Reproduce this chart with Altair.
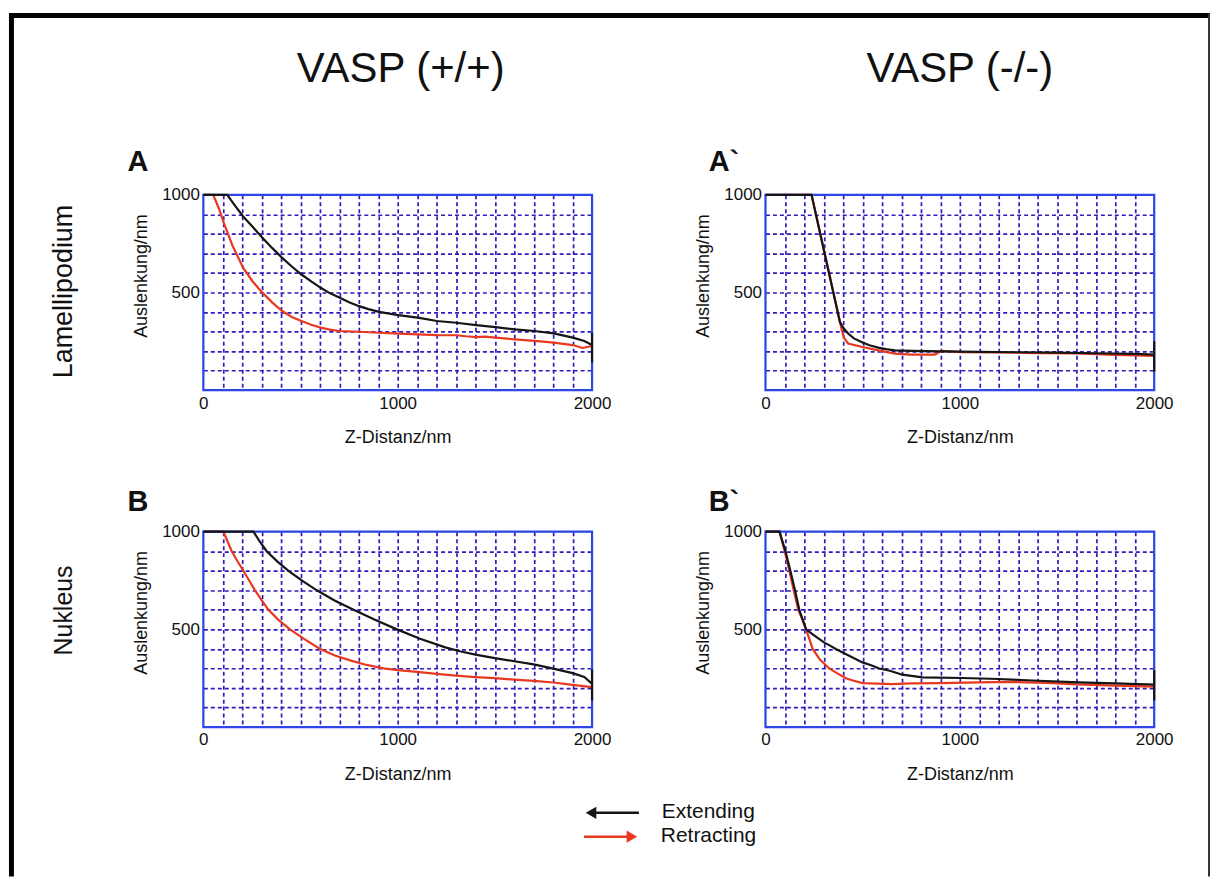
import altair as alt
import pandas as pd

# ---------------- data ----------------
# Panel A: VASP (+/+), Lamellipodium
A_ext_x = [0, 123, 160, 205, 250, 305, 355, 406, 455, 505, 555, 604, 650, 702, 750, 801, 850, 904, 1003, 1103, 1202, 1301, 1404, 1503, 1603, 1704, 1803, 1901, 1960, 2000, 2000, 2000]
A_ext_y = [1000, 1000, 948, 889, 840, 779, 727, 677, 633, 592, 557, 524, 497, 473, 450, 430, 415, 401, 384, 371, 354, 345, 333, 323, 311, 303, 291, 269, 252, 231, 294, 141]
A_ret_x = [0, 51, 80, 106, 150, 205, 255, 305, 355, 406, 455, 505, 555, 604, 650, 702, 801, 904, 1003, 1103, 1202, 1301, 1350, 1404, 1450, 1503, 1603, 1704, 1803, 1901, 1950, 2000]
A_ret_y = [1000, 1000, 930, 855, 740, 626, 555, 498, 448, 405, 375, 354, 335, 320, 310, 303, 299, 294, 289, 286, 282, 281, 276, 272, 274, 269, 260, 252, 243, 231, 216, 226]

# Panel A`: VASP (-/-), Lamellipodium
A2_ext_x = [0, 237, 383, 400, 425, 455, 494, 535, 580, 620, 665, 751, 906, 1100, 1300, 1500, 1700, 1900, 2000, 2000, 2000]
A2_ext_y = [1000, 1000, 349, 320, 290, 265, 247, 230, 218, 210, 204, 201, 199, 196, 194, 192, 189, 186, 182, 250, 94]
A2_ret_x = [0, 237, 391, 403, 425, 494, 580, 665, 751, 871, 906, 1000, 1200, 1400, 1600, 1800, 2000]
A2_ret_y = [1000, 1000, 315, 269, 239, 222, 204, 187, 182, 182, 201, 195, 193, 190, 188, 181, 176]

# Panel B: VASP (+/+), Nukleus
B_ext_x = [0, 258, 290, 326, 380, 438, 510, 584, 675, 773, 880, 996, 1115, 1245, 1320, 1400, 1500, 1600, 1700, 1800, 1900, 1960, 2000, 2000, 2000]
B_ext_y = [1000, 1000, 950, 900, 848, 800, 748, 700, 648, 600, 550, 500, 452, 408, 388, 371, 353, 337, 321, 299, 276, 256, 221, 294, 136]
B_ret_x = [0, 103, 125, 146, 175, 206, 236, 266, 300, 335, 385, 446, 520, 601, 680, 760, 840, 927, 1000, 1100, 1200, 1300, 1400, 1500, 1600, 1700, 1800, 1900, 2000]
B_ret_y = [1000, 1000, 950, 900, 850, 800, 750, 700, 650, 600, 550, 500, 450, 400, 365, 340, 318, 300, 291, 282, 272, 263, 256, 250, 243, 236, 228, 216, 204]

# Panel B`: VASP (-/-), Nukleus
B2_ext_x = [0, 72, 103, 128, 152, 174, 209, 243, 270, 303, 330, 362, 420, 499, 540, 585, 640, 704, 807, 1012, 1200, 1405, 1610, 1798, 2000, 2000, 2000]
B2_ext_y = [1000, 1000, 900, 800, 700, 600, 500, 475, 455, 432, 418, 400, 370, 331, 318, 300, 288, 268, 254, 251, 246, 237, 229, 224, 217, 292, 136]
B2_ret_x = [0, 72, 99, 123, 145, 169, 190, 209, 226, 243, 280, 328, 370, 414, 450, 500, 650, 750, 900, 1100, 1250, 1450, 1600, 1800, 2000]
B2_ret_y = [1000, 1000, 900, 800, 700, 600, 550, 500, 450, 400, 345, 300, 275, 250, 238, 225, 220, 224, 225, 229, 231, 226, 218, 212, 207]

col_titles = ["VASP (+/+)", "VASP (-/-)"]
row_titles = ["Lamellipodium", "Nukleus"]
panel_letters = ["A", "A`", "B", "B`"]
legend_labels = ["Extending", "Retracting"]
x_ticks = list(range(0, 2001, 100))
y_ticks = list(range(0, 1001, 100))

# ---------------- styling ----------------
FONT = "Liberation Sans"
GRID = "#2f1cbc"
BORDER = "#2d46e6"
RED = "#e8381f"
BLACK = "#151515"
TXT = "#111111"
W, H = 390, 196

one = pd.DataFrame({"k": [0]})


def line_df(xs, ys):
    return pd.DataFrame({"x": xs, "y": ys, "i": list(range(len(xs)))})


edge_off_x = {"condition": {"test": "datum.value === 0 || datum.value === 2000", "value": 0}, "value": 1}
edge_off_y = {"condition": {"test": "datum.value === 0 || datum.value === 1000", "value": 0}, "value": 1}

x_axis = alt.Axis(
    values=x_ticks, format="d",
    labelExpr="datum.value % 1000 === 0 ? datum.label : ''",
    ticks=False, domain=False, grid=True, gridColor=GRID, gridDash=[4, 3], gridWidth=1.7,
    gridOpacity=edge_off_x, labelFlush=False,
    labelFont=FONT, labelFontSize=17, labelColor=TXT, labelPadding=5,
    title="Z-Distanz/nm", titleFont=FONT, titleFontSize=18, titleFontWeight="normal",
    titleColor=TXT, titleY=48, titleBaseline="middle",
)
y_axis = alt.Axis(
    values=y_ticks, format="d",
    labelExpr="datum.value === 500 || datum.value === 1000 ? datum.label : ''",
    ticks=False, domain=False, grid=True, gridColor=GRID, gridDash=[4, 3], gridWidth=1.7,
    gridOpacity=edge_off_y, labelFlush=False,
    labelFont=FONT, labelFontSize=17, labelColor=TXT, labelPadding=4,
    title="Auslenkung/nm", titleFont=FONT, titleFontSize=18, titleFontWeight="normal",
    titleColor=TXT, titleX=-62, titleY=81, titleBaseline="middle", titleAlign="center",
)


def txt(s, x, y, size, weight="normal", angle=0, align="center", baseline="alphabetic"):
    return alt.Chart(one).mark_text(
        text=s, fontSize=size, fontWeight=weight, angle=angle, align=align,
        baseline=baseline, font=FONT, color=TXT,
    ).encode(x=alt.value(x), y=alt.value(y))


def panel(ext_x, ext_y, ret_x, ret_y, extras):
    xs = alt.X("x:Q", scale=alt.Scale(domain=[0, 2000], nice=False, zero=False), axis=x_axis)
    ys = alt.Y("y:Q", scale=alt.Scale(domain=[0, 1000], nice=False), axis=y_axis)
    border = alt.Chart(one).mark_rect(filled=False, stroke=BORDER, strokeWidth=2.2).encode(
        x=alt.value(0), x2=alt.value(W), y=alt.value(0), y2=alt.value(H))
    red = alt.Chart(line_df(ret_x, ret_y)).mark_line(color=RED, strokeWidth=2.2).encode(
        x=xs, y=ys, order="i:Q")
    blk = alt.Chart(line_df(ext_x, ext_y)).mark_line(color=BLACK, strokeWidth=2.2).encode(
        x=xs, y=ys, order="i:Q")
    return alt.layer(red, border, blk, *extras).properties(width=W, height=H)


# decorations placed relative to panel A's plot origin (203, 193)
anchor = alt.Chart(one).mark_rect(opacity=0).encode(
    x=alt.value(-203), x2=alt.value(1010), y=alt.value(-193), y2=alt.value(684))
frame_top = alt.Chart(one).mark_rule(color="black", strokeWidth=5).encode(
    x=alt.value(-195), x2=alt.value(1010), y=alt.value(-180))
frame_left = alt.Chart(one).mark_rule(color="black", strokeWidth=5).encode(
    x=alt.value(-192.5), y=alt.value(-182), y2=alt.value(684))
frame_right = alt.Chart(one).mark_rule(color="#333333", strokeWidth=2).encode(
    x=alt.value(1009), y=alt.value(-182), y2=alt.value(684))

arrow_ext = alt.Chart(one).mark_rule(color=BLACK, strokeWidth=2.5).encode(
    x=alt.value(388), x2=alt.value(437), y=alt.value(620))
head_ext = alt.Chart(one).mark_point(shape="triangle-left", filled=True, size=150, color=BLACK, opacity=1).encode(
    x=alt.value(389), y=alt.value(620))
arrow_ret = alt.Chart(one).mark_rule(color=RED, strokeWidth=2.5).encode(
    x=alt.value(382), x2=alt.value(430), y=alt.value(644))
head_ret = alt.Chart(one).mark_point(shape="triangle-right", filled=True, size=150, color=RED, opacity=1).encode(
    x=alt.value(430), y=alt.value(644))

extras_A = [
    anchor, frame_top, frame_left, frame_right,
    txt(col_titles[0], 198, -113, 42),
    txt(col_titles[1], 759, -113, 42),
    txt(row_titles[0], -140, 97, 27, angle=270, baseline="middle"),
    txt(row_titles[1], -140, 417, 25, angle=270, baseline="middle"),
    txt(panel_letters[0], -76, -24, 29, weight="bold", align="left"),
    txt(panel_letters[1], 507, -24, 29, weight="bold", align="left"),
    txt(panel_letters[2], -76, 317, 29, weight="bold", align="left"),
    txt(panel_letters[3], 507, 317, 29, weight="bold", align="left"),
    arrow_ext, head_ext, arrow_ret, head_ret,
    txt(legend_labels[0], 460, 619, 21, align="left", baseline="middle"),
    txt(legend_labels[1], 459, 643, 21, align="left", baseline="middle"),
]

pA = panel(A_ext_x, A_ext_y, A_ret_x, A_ret_y, extras_A)
pA2 = panel(A2_ext_x, A2_ext_y, A2_ret_x, A2_ret_y, [])
pB = panel(B_ext_x, B_ext_y, B_ret_x, B_ret_y, [])
pB2 = panel(B2_ext_x, B2_ext_y, B2_ret_x, B2_ret_y, [])

chart = alt.concat(
    pA, pA2, pB, pB2, columns=2,
    spacing={"row": 142, "column": 174}, bounds="flush", padding=0,
).configure_view(stroke=None).configure(font=FONT, background="white")

chart.save("out.html", embed_options={"renderer": "svg", "actions": False})
